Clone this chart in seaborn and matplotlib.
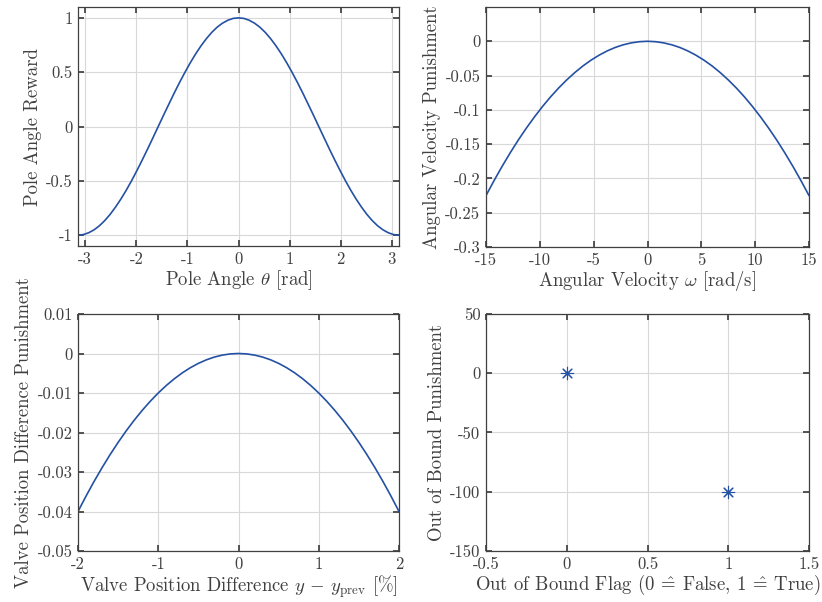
import matplotlib
matplotlib.use("Agg")
import matplotlib.pyplot as plt
import seaborn as sns
from matplotlib.ticker import FuncFormatter

# pole angle reward
theta = [-3.142, -3.037, -2.932, -2.827, -2.723, -2.618, -2.513, -2.409, -2.304, -2.199,
         -2.094, -1.990, -1.885, -1.780, -1.676, -1.571, -1.466, -1.361, -1.257, -1.152,
         -1.047, -0.942, -0.838, -0.733, -0.628, -0.524, -0.419, -0.314, -0.209, -0.105,
         0.0,
         0.105, 0.209, 0.314, 0.419, 0.524, 0.628, 0.733, 0.838, 0.942, 1.047,
         1.152, 1.257, 1.361, 1.466, 1.571, 1.676, 1.780, 1.885, 1.990, 2.094,
         2.199, 2.304, 2.409, 2.513, 2.618, 2.723, 2.827, 2.932, 3.037, 3.142]
angleReward = [-1.0, -0.995, -0.978, -0.951, -0.914, -0.866, -0.809, -0.743, -0.669, -0.588,
               -0.5, -0.407, -0.309, -0.208, -0.105, 0.0, 0.105, 0.208, 0.309, 0.407,
               0.5, 0.588, 0.669, 0.743, 0.809, 0.866, 0.914, 0.951, 0.978, 0.995,
               1.0,
               0.995, 0.978, 0.951, 0.914, 0.866, 0.809, 0.743, 0.669, 0.588, 0.5,
               0.407, 0.309, 0.208, 0.105, 0.0, -0.105, -0.208, -0.309, -0.407, -0.5,
               -0.588, -0.669, -0.743, -0.809, -0.866, -0.914, -0.951, -0.978, -0.995, -1.0]

# angular velocity punishment
omega = [-15, -14.25, -13.5, -12.75, -12, -11.25, -10.5, -9.75, -9, -8.25,
         -7.5, -6.75, -6, -5.25, -4.5, -3.75, -3, -2.25, -1.5, -0.75,
         0,
         0.75, 1.5, 2.25, 3, 3.75, 4.5, 5.25, 6, 6.75, 7.5,
         8.25, 9, 9.75, 10.5, 11.25, 12, 12.75, 13.5, 14.25, 15]
omegaPunish = [-0.225, -0.2031, -0.1823, -0.1626, -0.144, -0.1266, -0.1103, -0.0951, -0.081, -0.0681,
               -0.0563, -0.0456, -0.036, -0.0276, -0.0203, -0.0141, -0.009, -0.0051, -0.0023, -0.0006,
               0.0,
               -0.0006, -0.0023, -0.0051, -0.009, -0.0141, -0.0203, -0.0276, -0.036, -0.0456, -0.0563,
               -0.0681, -0.081, -0.0951, -0.1103, -0.1266, -0.144, -0.1626, -0.1823, -0.2031, -0.225]

# valve position difference punishment
valveDiff = [-2.0, -1.9, -1.8, -1.7, -1.6, -1.5, -1.4, -1.3, -1.2, -1.1,
             -1.0, -0.9, -0.8, -0.7, -0.6, -0.5, -0.4, -0.3, -0.2, -0.1,
             0.0,
             0.1, 0.2, 0.3, 0.4, 0.5, 0.6, 0.7, 0.8, 0.9, 1.0,
             1.1, 1.2, 1.3, 1.4, 1.5, 1.6, 1.7, 1.8, 1.9, 2.0]
valvePunish = [-0.04, -0.0361, -0.0324, -0.0289, -0.0256, -0.0225, -0.0196, -0.0169, -0.0144, -0.0121,
               -0.01, -0.0081, -0.0064, -0.0049, -0.0036, -0.0025, -0.0016, -0.0009, -0.0004, -0.0001,
               0.0,
               -0.0001, -0.0004, -0.0009, -0.0016, -0.0025, -0.0036, -0.0049, -0.0064, -0.0081, -0.01,
               -0.0121, -0.0144, -0.0169, -0.0196, -0.0225, -0.0256, -0.0289, -0.0324, -0.0361, -0.04]

# out of bound punishment
boundFlag = [0, 1]
boundPunish = [0, -100]

blue = "#2451a4"
grey = "#404040"

sns.set_theme(style="ticks")
plt.rcParams.update({
    "font.family": ["cmr10", "DejaVu Serif"],
    "mathtext.fontset": "cm",
    "axes.unicode_minus": False,
    "axes.formatter.use_mathtext": True,
    "text.color": grey,
    "axes.labelcolor": grey,
    "xtick.color": grey,
    "ytick.color": grey,
    "axes.edgecolor": grey,
    "xtick.direction": "in",
    "ytick.direction": "in",
    "xtick.top": True,
    "ytick.right": True,
    "xtick.major.size": 4,
    "ytick.major.size": 4,
    "axes.linewidth": 0.9,
})

fig = plt.figure(figsize=(8.22, 6.02), dpi=100)

def box(l, t, r, b):
    return [l / 822, 1 - b / 602, (r - l) / 822, (b - t) / 602]

axTL = fig.add_axes(box(78, 7, 399, 246))
axTR = fig.add_axes(box(486, 7, 809, 247))
axBL = fig.add_axes(box(78, 314, 399, 551))
axBR = fig.add_axes(box(486, 314, 809, 551))

fmt = FuncFormatter(lambda v, p: "{:g}".format(round(v, 6)))

sns.lineplot(x=theta, y=angleReward, ax=axTL, color=blue, lw=1.2, estimator=None)
sns.lineplot(x=omega, y=omegaPunish, ax=axTR, color=blue, lw=1.2, estimator=None)
sns.lineplot(x=valveDiff, y=valvePunish, ax=axBL, color=blue, lw=1.2, estimator=None)
sns.scatterplot(x=boundFlag, y=boundPunish, ax=axBR, color=blue, marker=(8, 2, 0),
                s=80, linewidth=0.8, edgecolor=blue, zorder=3)

axTL.set_xlim(-3.1416, 3.1416)
axTL.set_ylim(-1.1, 1.1)
axTL.set_xticks([-3, -2, -1, 0, 1, 2, 3])
axTL.set_yticks([-1, -0.5, 0, 0.5, 1])
axTL.set_xlabel(r"Pole Angle $\theta$ [rad]")
axTL.set_ylabel("Pole Angle Reward")

axTR.set_xlim(-15, 15)
axTR.set_ylim(-0.3, 0.05)
axTR.set_xticks([-15, -10, -5, 0, 5, 10, 15])
axTR.set_yticks([-0.3, -0.25, -0.2, -0.15, -0.1, -0.05, 0])
axTR.set_xlabel(r"Angular Velocity $\omega$ [rad/s]")
axTR.set_ylabel("Angular Velocity Punishment")

axBL.set_xlim(-2, 2)
axBL.set_ylim(-0.05, 0.01)
axBL.set_xticks([-2, -1, 0, 1, 2])
axBL.set_yticks([-0.05, -0.04, -0.03, -0.02, -0.01, 0, 0.01])
axBL.set_xlabel(r"Valve Position Difference $y\,-\,y_\mathrm{prev}$ [%]")
axBL.set_ylabel("Valve Position Difference Punishment")

axBR.set_xlim(-0.5, 1.5)
axBR.set_ylim(-150, 50)
axBR.set_xticks([-0.5, 0, 0.5, 1, 1.5])
axBR.set_yticks([-150, -100, -50, 0, 50])
axBR.set_xlabel(r"Out of Bound Flag (0 $\!\hat{=}\!$ False, 1 $\!\hat{=}\!$ True)")
axBR.set_ylabel("Out of Bound Punishment")

for ax in [axTL, axTR, axBL, axBR]:
    ax.xaxis.set_major_formatter(fmt)
    ax.yaxis.set_major_formatter(fmt)
    ax.grid(True, color="#d8d8d8", lw=0.8)
    ax.set_axisbelow(True)
    ax.tick_params(labelsize=12, pad=4)
    ax.xaxis.label.set_size(13.5)
    ax.yaxis.label.set_size(13.5)
    ax.xaxis.labelpad = 1
    ax.yaxis.labelpad = 3

fig.savefig("out.png", dpi=100)
